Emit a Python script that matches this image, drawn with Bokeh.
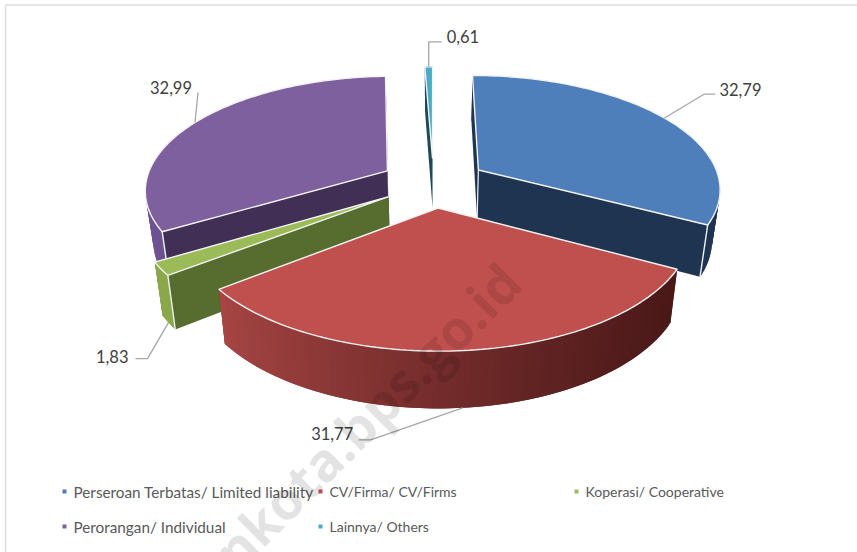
import numpy as np
from bokeh.plotting import figure
from bokeh.embed import file_html
from bokeh.resources import INLINE
from bokeh.core.properties import value

categories = ["Perseroan Terbatas/ Limited liability", "CV/Firma/ CV/Firms", "Koperasi/ Cooperative",
              "Perorangan/ Individual", "Lainnya/ Others"]
values = [32.79, 31.77, 1.83, 32.99, 0.61]
labels = ["32,79", "31,77", "1,83", "32,99", "0,61"]

top_colors = ["#4f7fbb", "#c0504d", "#9bbb59", "#7f609f", "#4bacc6"]
wall_from = ["#1f3552", "#a84644", "#8aa84a", "#6d5290", "#1f4a55"]
wall_to = ["#1f3552", "#4a1818", "#8aa84a", "#6d5290", "#1f4a55"]
front_colors = ["#1f3450", "#4a1818", "#566d2f", "#412f55", "#1f4a55"]
white_corner = [True, False, True, True, False]

CX, CY, RX, RY, K, EXPL = 433.0, 182.0, 242.0, 112.5, 0.153, 0.22
CONV = 0.972

def proj(X, Y):
    s = 1.0 / (1.0 + K * Y)
    return CX + RX * X * s, CY - RY * Y * s, s

def point(theta, off, r=1.0):
    return proj(r * np.sin(theta) + off[0], r * np.cos(theta) + off[1])

def lower(x, y, s):
    return CX + (x - CX) * CONV, y + 18 + 32 * s

def hex2rgb(h):
    return np.array([int(h[i:i + 2], 16) for i in (1, 3, 5)], dtype=float)

def mix(a, b, t):
    c = hex2rgb(a) * (1 - t) + hex2rgb(b) * t
    return "#%02x%02x%02x" % tuple(int(round(v)) for v in c)

p = figure(width=857, height=552, x_range=(0, 857), y_range=(552, 0), toolbar_location=None,
           output_backend="svg", x_axis_location=None, y_axis_location=None, min_border=0,
           outline_line_color=None, background_fill_color="white", border_fill_color="white")
p.xgrid.visible = False
p.ygrid.visible = False

# faint chart frame
p.line([5, 5, 857], [552, 4.5, 4.5], line_color="#dedede", line_width=1.6)

total = float(sum(values))
edges = np.concatenate([[0.0], np.cumsum(values)]) / total * 2 * np.pi
order = [4, 0, 3, 2, 1]
anchors = {}

for i in order:
    a0, a1 = edges[i], edges[i + 1]
    mid = 0.5 * (a0 + a1)
    off = (EXPL * np.sin(mid), EXPL * np.cos(mid))
    th = np.linspace(a0, a1, max(8, int(values[i] * 3)))
    ax, ay, as_ = proj(off[0], off[1])
    px, py, ps = point(th, off)
    bx, by = lower(px, py, ps)
    abx, aby = lower(ax, ay, as_)
    front_is_start = py[0] > py[-1]
    fi, bi = (0, -1) if front_is_start else (-1, 0)
    front_hidden = i == 1
    p.patch([ax, px[bi], bx[bi], abx], [ay, py[bi], by[bi], aby], fill_color=front_colors[i], line_color=None)
    if front_hidden:
        p.patch([ax, px[fi], bx[fi], abx], [ay, py[fi], by[fi], aby], fill_color=front_colors[i], line_color=None)
    xs, ys, cols = [], [], []
    xmin, xmax = px.min(), px.max()
    n = len(th)
    for j in range(n - 1):
        k = min(j + 2, n - 1)
        xs.append([px[j], px[k], bx[k], bx[j]])
        ys.append([py[j], py[k], by[k], by[j]])
        t = (0.5 * (px[j] + px[j + 1]) - xmin) / (xmax - xmin)
        cols.append(mix(wall_from[i], wall_to[i], t ** 0.8))
    p.patches(xs, ys, fill_color=cols, line_color=None)
    if not front_hidden:
        p.patch([ax, px[fi], bx[fi], abx], [ay, py[fi], by[fi], aby], fill_color=front_colors[i], line_color=None)
    if white_corner[i]:
        p.line([px[fi], bx[fi]], [py[fi], by[fi]], line_color="#eef2f6", line_width=1.4)
    if i == 0:
        p.line([ax, abx], [ay, aby], line_color="#eef2f6", line_width=1.2)
    p.patch(np.r_[ax, px], np.r_[ay, py], fill_color=top_colors[i], line_color="#f4f4f4", line_width=1.4)
    mx, my, ms = point(mid, off)
    mbx, mby = lower(mx, my, ms)
    anchors[i] = (mx, my, mbx, mby)

leader_from_wall = [False, True, True, False, False]
elbow = [(40, -24), (-92, 32), (-21, 36), (3, -30), (0, -25)]
tail = [(11, 0), (-12, 0), (-12, 0), (0, 0), (13, 0)]
label_off = [(4, -5), (-5.5, -6), (-7, -2), (-6, -5), (5, -5)]
label_align = ["left", "right", "right", "right", "left"]
for i in range(5):
    mx, my, mbx, mby = anchors[i]
    sx, sy = (mbx, mby) if leader_from_wall[i] else (mx, my)
    ex, ey = sx + elbow[i][0], sy + elbow[i][1]
    tx, ty = ex + tail[i][0], ey + tail[i][1]
    p.line([sx, ex, tx], [sy, ey, ty], line_color="#a6a6a6", line_width=1.3)
    p.text([tx + label_off[i][0]], [ty + label_off[i][1]], text=[labels[i]], text_font=value("Lato"),
           text_font_size="16.5px", text_color="#404040", text_align=label_align[i], text_baseline="middle")

leg_x = [64, 320, 576, 64, 320]
leg_y = [491, 491, 491, 526, 526]
leg_size = ["15.3px", "14px", "14px", "15.3px", "14px"]
for i in range(5):
    p.rect([leg_x[i]], [leg_y[i]], width=4, height=4, fill_color=top_colors[i], line_color=None)
    p.text([leg_x[i] + 9], [leg_y[i]], text=[categories[i]], text_font=value("Lato"), text_font_size=leg_size[i],
           text_color="#595959", text_align="left", text_baseline="middle")

p.text([200], [582], text=["ankota.bps.go.id"], angle=45, angle_units="deg", text_font=value("Open Sans"),
       text_font_style="bold", text_font_size="53px", text_color="#000000", text_alpha=0.11,
       text_align="left", text_baseline="alphabetic")

open("out.html", "w").write(file_html(p, INLINE))
